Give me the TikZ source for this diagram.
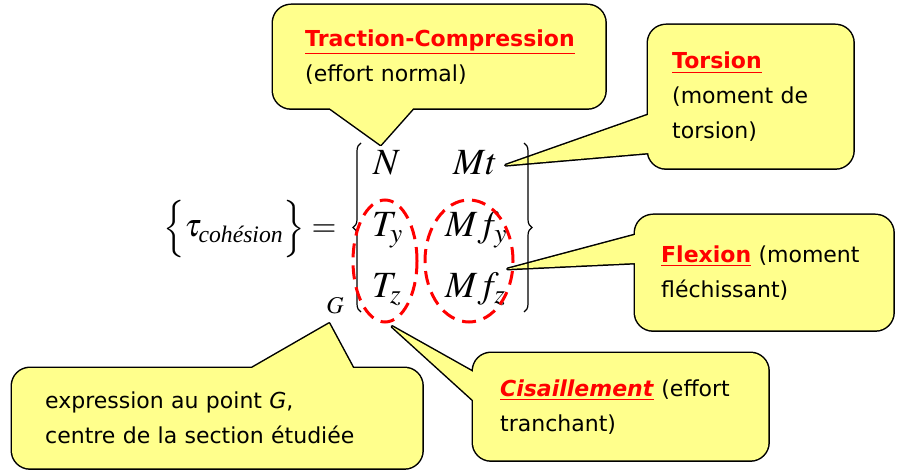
\documentclass[tikz,border=0pt]{standalone}
\usepackage{amsmath}
\usepackage{mathptmx}
\usepackage{fontspec}
\setmainfont{Liberation Serif}
\newfontfamily\comic{DejaVu Sans}
\usetikzlibrary{shapes.geometric,calc,decorations.pathreplacing}
\pgfdeclarelayer{outline}
\pgfdeclarelayer{inside}
\pgfsetlayers{outline,inside,main}
\definecolor{bubbleyellow}{RGB}{255,255,140}
\newcommand{\titre}[1]{\textcolor{red}{\underline{\textbf{#1}}}}
% box + pointer: outline first, then the fill covers the inner half
\newcommand{\bubble}[4]{%
  \begin{pgfonlayer}{outline}
    \draw[line width=3pt,line join=round] [rounded corners=18pt] (#1.north west) rectangle (#1.south east)
      [sharp corners] (#2) -- (#4) -- (#3) -- cycle;
  \end{pgfonlayer}
  \begin{pgfonlayer}{inside}
    \fill[bubbleyellow] [rounded corners=18pt] (#1.north west) rectangle (#1.south east)
      [sharp corners] (#2) -- (#4) -- (#3) -- cycle;
  \end{pgfonlayer}}
\tikzset{
  bubbletext/.style={font=\comic\fontsize{22}{35}\selectfont,
    execute at begin node={\hyphenpenalty=10000 \exhyphenpenalty=10000 },
    align=left, inner sep=0pt, anchor=north west},
  entry/.style={font=\fontsize{37}{44}\selectfont, inner sep=0pt, anchor=base west},
  zone/.style={draw=red, ellipse, line width=3pt, dash pattern=on 14pt off 8pt, inner sep=0pt},
  curly/.style={decorate, decoration={brace, amplitude=8pt}, line width=1.2pt},
}
\begin{document}
\begin{tikzpicture}[x=1pt,y=-1pt]
\useasboundingbox (0,0) rectangle (899,470);
% torseur de cohesion
\node[inner sep=0pt, anchor=base west, font=\fontsize{32}{38}\selectfont] (lhs) at (163,237)
  {$\Bigl\{\tau_{\text{\itshape coh\'esion}}\Bigr\}=$};
\draw[curly] (361,312) -- (361,143);
\draw[curly] (524,143) -- (524,312);
\node[entry] (N) at (373,175) {$N$};
\node[entry] (Mt) at (453,175) {$Mt$};
\node[entry] (Ty) at (372,237) {$T_y$};
\node[entry] (Mfy) at (445,237) {$Mf_y$};
\node[entry] (Tz) at (372,298) {$T_z$};
\node[entry] (Mfz) at (445,298) {$Mf_z$};
\node[inner sep=0pt, anchor=base east, font=\fontsize{24}{28}\selectfont] (G) at (344,313) {$G$};
\node[zone, minimum width=64pt, minimum height=122pt] (shear) at (385,261) {};
\node[zone, minimum width=88pt, minimum height=122pt] (bend) at (469,261) {};
% bulles
\node[bubbletext, minimum width=332pt, minimum height=103pt, text width=268pt] (trac) at (273,5)
  {\titre{Traction-Compression}\\(effort normal)};
\node[bubbletext, minimum width=205pt, minimum height=143pt, text width=157pt] (tors) at (648,25)
  {\titre{Torsion}\\(moment de\\torsion)};
\node[bubbletext, minimum width=258pt, minimum height=115pt, text width=206pt] (flex) at (635,215)
  {\titre{Flexion} (moment\\fléchissant)};
\node[bubbletext, minimum width=295pt, minimum height=107pt, text width=241pt] (cis) at (473,353)
  {\textcolor{red}{\underline{\textbf{\textit{Cisaillement}}}} (effort\\tranchant)};
\node[bubbletext, minimum width=410pt, minimum height=100pt, text width=344pt] (expr) at (12,368)
  {expression au point \textit{G},\\centre de la section étudiée};
\bubble{trac}{$(trac.south west)+(57,0)$}{$(trac.south west)+(140,0)$}{$(N.north)+(-6,-6)$}
\bubble{tors}{$(tors.north west)+(0,90)$}{$(tors.north west)+(0,128)$}{$(Mt.east)+(8,2)$}
\bubble{flex}{$(flex.north west)+(0,20)$}{$(flex.north west)+(0,48)$}{$(Mfz.north east)+(2,-4)$}
\bubble{cis}{$(cis.north west)+(0,19)$}{$(cis.north west)+(0,47)$}{$(shear.south)+(7,3)$}
\bubble{expr}{$(expr.north west)+(240,0)$}{$(expr.north west)+(341,0)$}{$(G.south)+(-6,10)$}
\end{tikzpicture}
\end{document}
